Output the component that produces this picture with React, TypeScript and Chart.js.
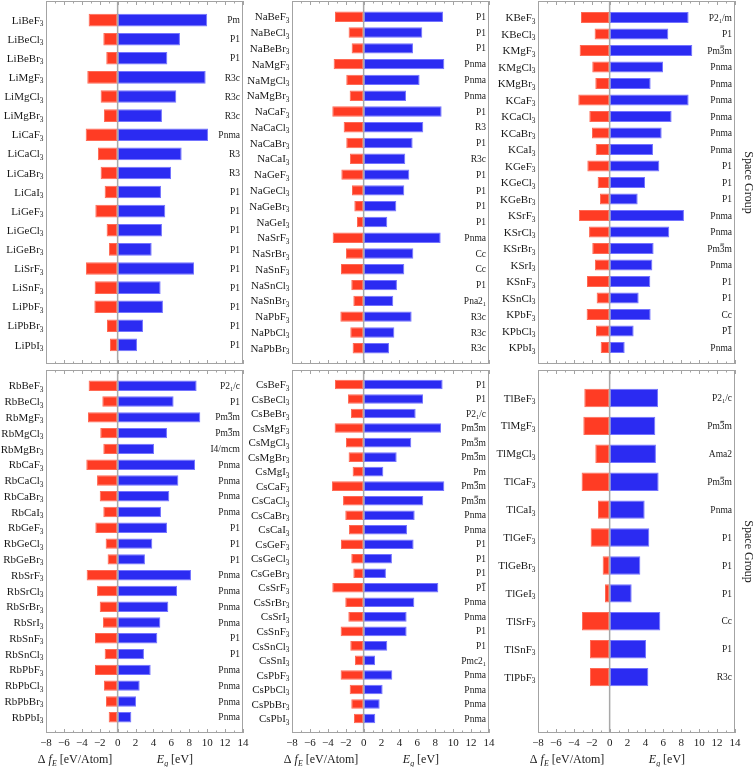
import React, { useEffect, useRef } from "react";
import { Chart, registerables } from "chart.js";
Chart.register(...registerables);

// ---------- data ----------
const liNames = ["LiBeF_3", "LiBeCl_3", "LiBeBr_3", "LiMgF_3", "LiMgCl_3", "LiMgBr_3", "LiCaF_3", "LiCaCl_3", "LiCaBr_3", "LiCaI_3", "LiGeF_3", "LiGeCl_3", "LiGeBr_3", "LiSrF_3", "LiSnF_3", "LiPbF_3", "LiPbBr_3", "LiPbI_3"];
const liFormation = [-3.24, -1.6, -1.27, -3.39, -1.9, -1.53, -3.57, -2.2, -1.9, -1.45, -2.49, -1.23, -0.97, -3.54, -2.57, -2.6, -1.19, -0.86];
const liGap = [10.0, 6.96, 5.55, 9.83, 6.55, 4.95, 10.09, 7.15, 5.96, 4.84, 5.32, 4.95, 3.8, 8.53, 4.8, 5.06, 2.83, 2.16];
const liSpace = ["Pm", "P1", "P1", "R3c", "R3c", "R3c", "Pnma", "R3", "R3", "P1", "P1", "P1", "P1", "P1", "P1", "P1", "P1", "P1"];

const naNames = ["NaBeF_3", "NaBeCl_3", "NaBeBr_3", "NaMgF_3", "NaMgCl_3", "NaMgBr_3", "NaCaF_3", "NaCaCl_3", "NaCaBr_3", "NaCaI_3", "NaGeF_3", "NaGeCl_3", "NaGeBr_3", "NaGeI_3", "NaSrF_3", "NaSrBr_3", "NaSnF_3", "NaSnCl_3", "NaSnBr_3", "NaPbF_3", "NaPbCl_3", "NaPbBr_3"];
const naFormation = [-3.2, -1.68, -1.34, -3.35, -1.94, -1.56, -3.5, -2.23, -1.94, -1.53, -2.49, -1.3, -1.04, -0.74, -3.46, -1.97, -2.53, -1.38, -1.15, -2.6, -1.49, -1.23];
const naGap = [8.86, 6.55, 5.51, 9.01, 6.25, 4.73, 8.71, 6.66, 5.47, 4.65, 5.1, 4.54, 3.65, 2.64, 8.6, 5.55, 4.54, 3.72, 3.31, 5.36, 3.43, 2.83];
const naSpace = ["P1", "P1", "P1", "Pnma", "Pnma", "Pnma", "P1", "R3", "P1", "R3c", "P1", "P1", "P1", "P1", "Pnma", "Cc", "Cc", "P1", "Pna2_1", "R3c", "R3c", "R3c"];

const kNames = ["KBeF_3", "KBeCl_3", "KMgF_3", "KMgCl_3", "KMgBr_3", "KCaF_3", "KCaCl_3", "KCaBr_3", "KCaI_3", "KGeF_3", "KGeCl_3", "KGeBr_3", "KSrF_3", "KSrCl_3", "KSrBr_3", "KSrI_3", "KSnF_3", "KSnCl_3", "KPbF_3", "KPbCl_3", "KPbI_3"];
const kFormation = [-3.2, -1.68, -3.35, -1.94, -1.6, -3.5, -2.27, -1.97, -1.56, -2.49, -1.34, -1.08, -3.43, -2.3, -1.94, -1.64, -2.53, -1.45, -2.57, -1.53, -1.0];
const kGap = [8.82, 6.55, 9.23, 5.96, 4.58, 8.82, 6.92, 5.81, 4.84, 5.55, 3.95, 3.13, 8.3, 6.66, 4.91, 4.77, 4.54, 3.24, 4.58, 2.68, 1.68];
const kSpace = ["P2_1/m", "P1", "Pm~3m", "Pnma", "Pnma", "Pnma", "Pnma", "Pnma", "Pnma", "P1", "P1", "P1", "Pnma", "Pnma", "Pm~3m", "Pnma", "P1", "P1", "Cc", "P~1", "Pnma"];

const rbNames = ["RbBeF_3", "RbBeCl_3", "RbMgF_3", "RbMgCl_3", "RbMgBr_3", "RbCaF_3", "RbCaCl_3", "RbCaBr_3", "RbCaI_3", "RbGeF_3", "RbGeCl_3", "RbGeBr_3", "RbSrF_3", "RbSrCl_3", "RbSrBr_3", "RbSrI_3", "RbSnF_3", "RbSnCl_3", "RbPbF_3", "RbPbCl_3", "RbPbBr_3", "RbPbI_3"];
const rbFormation = [-3.24, -1.71, -3.31, -1.94, -1.6, -3.5, -2.3, -2.0, -1.6, -2.49, -1.34, -1.12, -3.46, -2.3, -2.0, -1.64, -2.53, -1.45, -2.53, -1.53, -1.3, -1.0];
const rbGap = [8.82, 6.25, 9.23, 5.51, 4.06, 8.64, 6.78, 5.77, 4.84, 5.51, 3.87, 3.05, 8.19, 6.63, 5.66, 4.77, 4.43, 2.94, 3.69, 2.46, 2.05, 1.53];
const rbSpace = ["P2_1/c", "P1", "Pm~3m", "Pm~3m", "I4/mcm", "Pnma", "Pnma", "Pnma", "Pnma", "P1", "P1", "P1", "Pnma", "Pnma", "Pnma", "Pnma", "P1", "P1", "Pnma", "Pnma", "Pnma", "Pnma"];

const csNames = ["CsBeF_3", "CsBeCl_3", "CsBeBr_3", "CsMgF_3", "CsMgCl_3", "CsMgBr_3", "CsMgI_3", "CsCaF_3", "CsCaCl_3", "CsCaBr_3", "CsCaI_3", "CsGeF_3", "CsGeCl_3", "CsGeBr_3", "CsSrF_3", "CsSrBr_3", "CsSrI_3", "CsSnF_3", "CsSnCl_3", "CsSnI_3", "CsPbF_3", "CsPbCl_3", "CsPbBr_3", "CsPbI_3"];
const csFormation = [-3.2, -1.75, -1.41, -3.24, -1.97, -1.68, -1.23, -3.54, -2.3, -2.05, -1.64, -2.53, -1.38, -1.15, -3.5, -2.05, -1.71, -2.57, -1.49, -0.97, -2.57, -1.56, -1.38, -1.08];
const csGap = [8.82, 6.63, 5.81, 8.64, 5.32, 3.69, 2.2, 9.01, 6.66, 5.7, 4.84, 5.58, 3.16, 2.49, 8.34, 5.66, 4.8, 4.8, 2.64, 1.27, 3.2, 2.12, 1.79, 1.3];
const csSpace = ["P1", "P1", "P2_1/c", "Pm~3m", "Pm~3m", "Pm~3m", "Pm", "Pm~3m", "Pm~3m", "Pnma", "Pnma", "P1", "P1", "P1", "P~1", "Pnma", "Pnma", "P1", "P1", "Pmc2_1", "Pnma", "Pnma", "Pnma", "Pnma"];

const tlNames = ["TlBeF_3", "TlMgF_3", "TlMgCl_3", "TlCaF_3", "TlCaI_3", "TlGeF_3", "TlGeBr_3", "TlGeI_3", "TlSrF_3", "TlSnF_3", "TlPbF_3"];
const tlFormation = [-2.83, -2.94, -1.6, -3.13, -1.3, -2.12, -0.78, -0.52, -3.09, -2.2, -2.2];
const tlGap = [5.4, 5.1, 5.17, 5.47, 3.91, 4.43, 3.43, 2.46, 5.66, 4.06, 4.32];
const tlSpace = ["P2_1/c", "Pm~3m", "Ama2", "Pm~3m", "Pnma", "P1", "P1", "P1", "Cc", "P1", "R3c"];

const xTickValues = [-8, -6, -4, -2, 0, 2, 4, 6, 8, 10, 12, 14];

// ---------- styling ----------
const FONT = '"Liberation Serif", "DejaVu Serif", serif';
const RED = "#ff3c24";
const RED_EDGE = "#ff6a55";
const BLUE = "#2b2bf2";
const BLUE_EDGE = "#7474ff";
const FRAME = "#a3a3a3";
const TEXT = "#1a1a1a";

type PanelDef = {
  names: string[]; df: number[]; eg: number[]; sg: string[];
  col: number; row: number; trail: number;
};

const panels: PanelDef[] = [
  { names: liNames, df: liFormation, eg: liGap, sg: liSpace, col: 0, row: 0, trail: 1 },
  { names: naNames, df: naFormation, eg: naGap, sg: naSpace, col: 1, row: 0, trail: 1 },
  { names: kNames, df: kFormation, eg: kGap, sg: kSpace, col: 2, row: 0, trail: 1 },
  { names: rbNames, df: rbFormation, eg: rbGap, sg: rbSpace, col: 0, row: 1, trail: 1 },
  { names: csNames, df: csFormation, eg: csGap, sg: csSpace, col: 1, row: 1, trail: 1 },
  { names: tlNames, df: tlFormation, eg: tlGap, sg: tlSpace, col: 2, row: 1, trail: 2 },
];

const COL_X = [0, 246, 492];
const COL_W = [256, 256, 264];
const ROW_Y = [0, 367];
const ROW_H = [367, 400];
const PAD_RIGHT = [13, 13, 21];
const PAD_TOP = [1, 3];
const PAD_BOTTOM = [3, 34];

// ---------- rich text helpers ----------
type Seg = { t: string; k: "n" | "s" | "b" };
function parseRich(s: string): Seg[] {
  const out: Seg[] = [];
  for (let i = 0; i < s.length; i++) {
    const c = s[i];
    if (c === "_") { out.push({ t: s[i + 1], k: "s" }); i++; }
    else if (c === "~") { out.push({ t: s[i + 1], k: "b" }); i++; }
    else out.push({ t: c, k: "n" });
  }
  return out;
}

function drawRich(ctx: CanvasRenderingContext2D, s: string, xRight: number, yMid: number, size: number) {
  const segs = parseRich(s);
  const nf = `${size}px ${FONT}`;
  const sf = `${(size * 0.66).toFixed(1)}px ${FONT}`;
  const widths = segs.map((g) => { ctx.font = g.k === "s" ? sf : nf; return ctx.measureText(g.t).width; });
  const total = widths.reduce((a, b) => a + b, 0);
  let x = xRight - total;
  const base = yMid + size * 0.33;
  ctx.textAlign = "left";
  ctx.textBaseline = "alphabetic";
  segs.forEach((g, i) => {
    ctx.font = g.k === "s" ? sf : nf;
    ctx.fillText(g.t, x, g.k === "s" ? base + size * 0.22 : base);
    if (g.k === "b") {
      ctx.save();
      ctx.strokeStyle = TEXT;
      ctx.lineWidth = 0.8;
      const yy = base - size * 0.8;
      ctx.beginPath(); ctx.moveTo(x + 0.5, yy); ctx.lineTo(x + widths[i] - 0.5, yy); ctx.stroke();
      ctx.restore();
    }
    x += widths[i];
  });
}

type TSeg = { t: string; it?: boolean; sub?: boolean };
function drawTitle(ctx: CanvasRenderingContext2D, segs: TSeg[], xCenter: number, yMid: number, size: number) {
  const fontOf = (g: TSeg) => `${g.it ? "italic " : ""}${g.sub ? (size * 0.66).toFixed(1) : size}px ${FONT}`;
  const widths = segs.map((g) => { ctx.font = fontOf(g); return ctx.measureText(g.t).width; });
  const total = widths.reduce((a, b) => a + b, 0);
  let x = xCenter - total / 2;
  const base = yMid + size * 0.33;
  ctx.textAlign = "left";
  ctx.textBaseline = "alphabetic";
  segs.forEach((g, i) => {
    ctx.font = fontOf(g);
    ctx.fillText(g.t, x, g.sub ? base + size * 0.22 : base);
    x += widths[i];
  });
}

function makeDecor(p: PanelDef) {
  return {
    id: "decor",
    afterDatasetsDraw(chart: any) {
      const { ctx, chartArea: a } = chart;
      const xs = chart.scales.x;
      const ys = chart.scales.y;
      ctx.save();
      // zero line
      const x0 = xs.getPixelForValue(0);
      ctx.strokeStyle = "#a8a8a8";
      ctx.lineWidth = 1.5;
      ctx.beginPath(); ctx.moveTo(x0, a.top); ctx.lineTo(x0, a.bottom); ctx.stroke();
      // frame
      ctx.strokeStyle = FRAME;
      ctx.lineWidth = 1;
      ctx.strokeRect(Math.round(a.left) + 0.5, Math.round(a.top) + 0.5, Math.round(a.right - a.left) - 1, Math.round(a.bottom - a.top) - 1);
      // ticks (top and bottom, inward)
      const min = xs.min, max = xs.max;
      ctx.beginPath();
      for (let v = min; v <= max; v += 1) {
        const px = Math.round(xs.getPixelForValue(v)) + 0.5;
        const len = xTickValues.includes(v) ? 4 : 2.5;
        ctx.moveTo(px, a.top); ctx.lineTo(px, a.top + len);
        ctx.moveTo(px, a.bottom); ctx.lineTo(px, a.bottom - len);
      }
      ctx.stroke();
      // compound labels and space groups
      ctx.fillStyle = TEXT;
      p.names.forEach((n, i) => drawRich(ctx, n, a.left - 2.5, ys.getPixelForValue(i + 1), 11));
      p.sg.forEach((s, i) => drawRich(ctx, s, a.right - 3, ys.getPixelForValue(i + 1), 9.5));
      if (p.row === 1) {
        ctx.font = `11px ${FONT}`;
        ctx.textAlign = "center";
        ctx.textBaseline = "middle";
        xTickValues.forEach((v) => {
          const lab = (v < 0 ? "\u2212" : "") + Math.abs(v);
          ctx.fillText(lab, xs.getPixelForValue(v), a.bottom + 10);
        });
        drawTitle(ctx, [{ t: "\u0394 " }, { t: "f", it: true }, { t: "E", it: true, sub: true }, { t: " [eV/Atom]" }], xs.getPixelForValue(-4.75), a.bottom + 26, 12);
        drawTitle(ctx, [{ t: "E", it: true }, { t: "g", it: true, sub: true }, { t: " [eV]" }], xs.getPixelForValue(6.4), a.bottom + 26, 12);
      }
      if (p.col === 2) {
        ctx.save();
        ctx.translate(a.right + 13, (a.top + a.bottom) / 2);
        ctx.rotate(Math.PI / 2);
        ctx.font = `12px ${FONT}`;
        ctx.textAlign = "center";
        ctx.textBaseline = "middle";
        ctx.fillText("Space Group", 0, 0);
        ctx.restore();
      }
      ctx.restore();
    },
  };
}

function PanelChart({ p }: { p: PanelDef }) {
  const ref = useRef<HTMLCanvasElement>(null);
  const w = COL_W[p.col];
  const h = ROW_H[p.row];
  useEffect(() => {
    const trailL = Array(p.trail).fill("");
    const trailN = Array(p.trail).fill(null);
    const labels = ["", ...p.names, ...trailL];
    const chart = new Chart(ref.current as HTMLCanvasElement, {
      type: "bar",
      data: {
        labels,
        datasets: [
          {
            data: [null, ...p.df, ...trailN],
            backgroundColor: RED, borderColor: RED_EDGE, borderWidth: 1, borderSkipped: false,
            grouped: false, categoryPercentage: 1, barPercentage: 0.66,
          } as any,
          {
            data: [null, ...p.eg, ...trailN],
            backgroundColor: BLUE, borderColor: BLUE_EDGE, borderWidth: 1, borderSkipped: false,
            grouped: false, categoryPercentage: 1, barPercentage: 0.66,
          } as any,
        ],
      },
      options: {
        indexAxis: "y",
        responsive: false,
        animation: false,
        layout: { padding: { left: 46, right: PAD_RIGHT[p.col], top: PAD_TOP[p.row], bottom: PAD_BOTTOM[p.row] } },
        plugins: { legend: { display: false }, tooltip: { enabled: false }, title: { display: false } },
        scales: {
          x: { type: "linear", min: -8, max: 14, display: false },
          y: { type: "category", offset: false, display: false, ticks: { autoSkip: false } },
        },
      } as any,
      plugins: [makeDecor(p)],
    });
    return () => chart.destroy();
  }, []);
  return (
    <canvas
      ref={ref}
      width={w}
      height={h}
      style={{ position: "absolute", left: COL_X[p.col], top: ROW_Y[p.row], width: w, height: h }}
    />
  );
}

export default function App() {
  return (
    <div style={{ position: "fixed", left: 0, top: 0, width: 756, height: 767, background: "#fff" }}>
      {panels.map((p, i) => <PanelChart key={i} p={p} />)}
    </div>
  );
}
